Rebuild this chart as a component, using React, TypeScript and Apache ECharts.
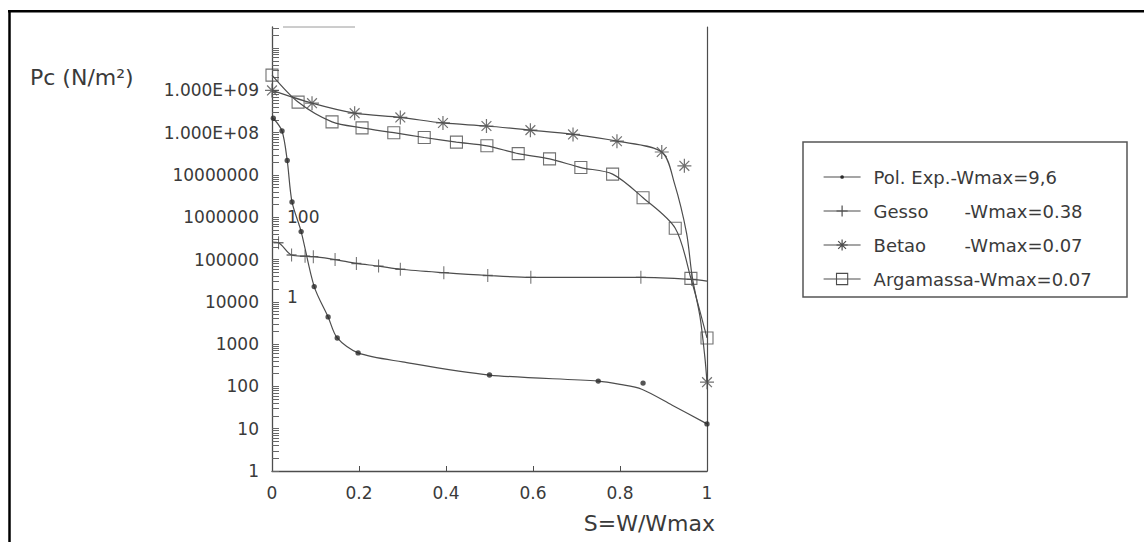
import React, { useEffect, useRef } from 'react';
import * as echarts from 'echarts';

// ---------- data ----------
const seriesNames = ['Pol. Exp.', 'Gesso', 'Betao', 'Argamassa'];
const wmaxLabels = ['-Wmax=9,6', '-Wmax=0.38', '-Wmax=0.07', '-Wmax=0.07'];

const polMarkers = [
  [0.003, 2.2e8], [0.023, 1.1e8], [0.035, 2.2e7], [0.046, 2.3e6], [0.067, 4.6e5],
  [0.097, 2.3e4], [0.129, 4.4e3], [0.15, 1.4e3], [0.198, 620], [0.5, 186],
  [0.75, 134], [0.853, 120], [1.0, 13],
];
const polCurve = [
  [0.003, 2.2e8], [0.023, 1.1e8], [0.035, 2.2e7], [0.046, 2.3e6], [0.067, 4.6e5],
  [0.097, 2.3e4], [0.129, 4.4e3], [0.15, 1.4e3], [0.198, 620], [0.3, 380],
  [0.5, 186], [0.75, 134], [0.8, 112], [0.85, 86], [0.92, 36], [1.0, 13],
];

const gessoMarkers = [
  [0.015, 2.5e5], [0.045, 1.28e5], [0.076, 1.2e5], [0.095, 1.17e5], [0.145, 1.0e5],
  [0.194, 8.1e4], [0.245, 7.0e4], [0.295, 5.9e4], [0.395, 4.9e4], [0.496, 4.2e4],
  [0.595, 3.8e4], [0.848, 3.8e4], [0.965, 3.4e4],
];
const gessoCurve = [
  [0, 2.6e5], [0.015, 2.5e5], [0.045, 1.28e5], [0.076, 1.2e5], [0.095, 1.17e5],
  [0.145, 1.0e5], [0.194, 8.1e4], [0.245, 7.0e4], [0.295, 5.9e4], [0.395, 4.9e4],
  [0.496, 4.2e4], [0.595, 3.8e4], [0.848, 3.8e4], [0.965, 3.4e4], [1.0, 3.1e4],
];

const betaoMarkers = [
  [0, 1.0e9], [0.092, 5.0e8], [0.19, 2.9e8], [0.295, 2.3e8], [0.393, 1.7e8],
  [0.493, 1.44e8], [0.594, 1.15e8], [0.692, 9.1e7], [0.793, 6.3e7], [0.896, 3.5e7],
  [0.948, 1.65e7], [1.0, 126],
];
const betaoCurve = [
  [0, 1.0e9], [0.092, 5.0e8], [0.19, 2.9e8], [0.295, 2.3e8], [0.393, 1.7e8],
  [0.493, 1.44e8], [0.594, 1.15e8], [0.692, 9.1e7], [0.793, 6.3e7], [0.896, 3.5e7],
  [0.925, 6.4e6], [0.953, 4.2e5], [0.966, 3.9e4], [0.984, 4.4e3], [0.995, 500], [1.0, 126],
];

const argaMarkers = [
  [0, 2.3e9], [0.06, 5.3e8], [0.138, 1.8e8], [0.207, 1.3e8], [0.28, 1.0e8],
  [0.35, 7.7e7], [0.424, 6.0e7], [0.494, 4.9e7], [0.566, 3.2e7], [0.638, 2.4e7],
  [0.71, 1.5e7], [0.783, 1.05e7], [0.853, 2.9e6], [0.927, 5.5e5], [0.963, 3.6e4],
  [1.0, 1.4e3],
];
const argaCurve = argaMarkers;

const xTickLabels = ['0', '0.2', '0.4', '0.6', '0.8', '1'];
const yTickValues = [1, 10, 100, 1000, 1e4, 1e5, 1e6, 1e7, 1e8, 1e9];
const yTickLabels = ['1', '10', '100', '1000', '10000', '100000', '1000000', '10000000', '1.000E+08', '1.000E+09'];
const minorMultipliers = [2, 3, 4, 5, 6, 7, 8, 9];
const annotationTexts = ['100', '1'];

// ---------- styles ----------
const FONT = "'DejaVu Sans', sans-serif";
const INK = '#3a3a3a';
const LINE = '#4d4d4d';
const Y_MAX = Math.pow(10, 10.5);

const polSymbol = 'path://M0,0M12,12M4,6a2,2 0 1 0 4,0a2,2 0 1 0 -4,0Z';
const plusSymbol = 'path://M5,0V10M0,5H10';
const starSymbol = 'path://M5,0V10M0,5H10M1.5,1.5L8.5,8.5M1.5,8.5L8.5,1.5';

const symbols = [polSymbol, plusSymbol, starSymbol, 'rect'];
const symbolSizes: any[] = [16, [10, 13], 14, 12];
const itemStyles = [
  { color: '#2a2a2a', borderWidth: 0 },
  { color: LINE, borderColor: LINE, borderWidth: 1.2 },
  { color: LINE, borderColor: LINE, borderWidth: 1.2 },
  { color: 'transparent', borderColor: LINE, borderWidth: 1.1 },
];
const curves = [polCurve, gessoCurve, betaoCurve, argaCurve];
const markers = [polMarkers, gessoMarkers, betaoMarkers, argaMarkers];

export default function App() {
  const ref = useRef<HTMLDivElement>(null);

  useEffect(() => {
    if (!ref.current) return;
    const chart = echarts.init(ref.current, undefined, { renderer: 'svg' });

    const allTicks: number[] = [];
    for (let k = 0; k <= 10; k++) {
      const base = Math.pow(10, k);
      if (base <= Y_MAX) allTicks.push(base);
      minorMultipliers.forEach((m) => {
        if (m * base <= Y_MAX) allTicks.push(m * base);
      });
    }

    const series: any[] = [];
    seriesNames.forEach((name, i) => {
      series.push({
        name,
        type: 'line',
        data: curves[i],
        smooth: 0.3,
        showSymbol: false,
        symbol: symbols[i],
        symbolSize: symbolSizes[i],
        lineStyle: { color: LINE, width: 1.2 },
        itemStyle: itemStyles[i],
        silent: true,
        z: 2,
      });
    });
    seriesNames.forEach((name, i) => {
      series.push({
        name,
        type: 'scatter',
        data: markers[i],
        symbol: symbols[i],
        symbolSize: symbolSizes[i],
        itemStyle: itemStyles[i],
        silent: true,
        z: 3,
      });
    });

    const option: any = {
      animation: false,
      textStyle: { fontFamily: FONT },
      grid: { left: 272, right: 437, top: 27, bottom: 71, outerBoundsMode: 'none' },
      xAxis: {
        type: 'value',
        min: 0,
        max: 1,
        interval: 0.2,
        splitLine: { show: false },
        axisLine: { lineStyle: { color: LINE, width: 1.3 } },
        axisTick: { inside: true, length: 5, lineStyle: { color: LINE } },
        axisLabel: {
          margin: 13,
          fontSize: 17,
          color: INK,
          fontFamily: FONT,
          formatter: (v: number) => xTickLabels[Math.round(v / 0.2)] ?? '',
        },
        name: 'S=W/Wmax',
        nameLocation: 'end',
        nameGap: 8,
        nameTextStyle: {
          fontSize: 22,
          color: INK,
          fontFamily: FONT,
          align: 'right',
          verticalAlign: 'top',
          padding: [41, 0, 0, 0],
        },
      },
      yAxis: [
        {
          type: 'log',
          logBase: 10,
          min: 1,
          max: Y_MAX,
          splitLine: { show: false },
          axisLine: { lineStyle: { color: LINE, width: 1.3 } },
          axisTick: { inside: true, length: 7, customValues: allTicks, lineStyle: { color: '#666' } },
          minorTick: { show: false },
          axisLabel: {
            customValues: yTickValues,
            margin: 13,
            fontSize: 17,
            color: INK,
            fontFamily: FONT,
            formatter: (v: number) => {
              const e = Math.round(Math.log10(v));
              return Math.abs(Math.log10(v) - e) < 1e-6 ? yTickLabels[e] ?? '' : '';
            },
          },
        },
        {
          type: 'log',
          logBase: 10,
          min: 1,
          max: Y_MAX,
          position: 'right',
          splitLine: { show: false },
          axisLine: { show: true, lineStyle: { color: LINE, width: 1.2 } },
          axisTick: { show: false },
          axisLabel: { show: false },
        },
      ],
      legend: {
        orient: 'vertical',
        left: 818,
        top: 162,
        itemWidth: 37,
        itemHeight: 14,
        itemGap: 14,
        selectedMode: false,
        data: seriesNames.map((name, i) => ({
          name,
          itemStyle: itemStyles[i],
          lineStyle: { color: LINE, width: 1.2 },
        })),
        formatter: (name: string) => {
          const i = seriesNames.indexOf(name);
          if (i === 1 || i === 2) return `{s| }{n|${name}}{v|${wmaxLabels[i]}}`;
          return `{s| }{v|${name}${wmaxLabels[i]}}`;
        },
        textStyle: {
          fontFamily: FONT,
          fontSize: 18,
          color: INK,
          lineHeight: 20,
          rich: {
            s: { width: 8, fontSize: 18 },
            n: { width: 91, fontSize: 18, color: INK, fontFamily: FONT },
            v: { fontSize: 18, color: INK, fontFamily: FONT },
          },
        },
      },
      graphic: [
        { type: 'line', shape: { x1: 9.5, y1: 10, x2: 9.5, y2: 542 }, style: { stroke: '#000', lineWidth: 2.5 } },
        { type: 'line', shape: { x1: 8, y1: 11.2, x2: 1144, y2: 11.2 }, style: { stroke: '#000', lineWidth: 2.5 } },
        { type: 'line', shape: { x1: 283, y1: 27, x2: 355, y2: 27 }, style: { stroke: '#9a9a9a', lineWidth: 1 } },
        { type: 'rect', shape: { x: 803, y: 142, width: 324, height: 155 }, style: { fill: 'none', stroke: '#555', lineWidth: 1.5 } },
        {
          type: 'text', x: 30, y: 77,
          style: { text: 'Pc (N/m²)', fontSize: 22, fontFamily: FONT, fill: INK, textVerticalAlign: 'middle', verticalAlign: 'middle' },
        },
        {
          type: 'text', x: 287, y: 217,
          style: { text: annotationTexts[0], fontSize: 17, fontFamily: FONT, fill: INK, verticalAlign: 'middle' },
        },
        {
          type: 'text', x: 287, y: 297,
          style: { text: annotationTexts[1], fontSize: 17, fontFamily: FONT, fill: INK, verticalAlign: 'middle' },
        },
      ],
      series,
    };

    chart.setOption(option);
    return () => chart.dispose();
  }, []);

  return (
    <div
      ref={ref}
      style={{ position: 'absolute', left: 0, top: 0, width: 1144, height: 542, background: '#fff' }}
    />
  );
}
